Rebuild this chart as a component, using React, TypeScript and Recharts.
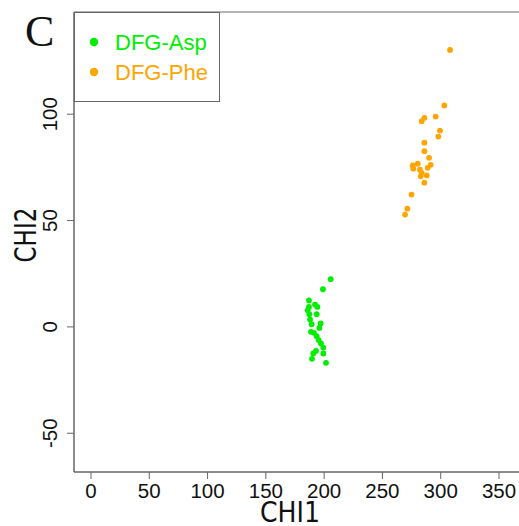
import React from 'react';
import { ScatterChart, Scatter, XAxis, YAxis, ReferenceArea, Legend } from 'recharts';

const aspChi1 = [205.6, 199.0, 187.0, 192.2, 194.2, 185.9, 187.3, 193.6, 187.9, 189.3, 197.0, 195.9, 188.7, 191.3, 193.6, 195.3, 197.3, 199.3, 193.0, 190.7, 199.3, 189.6, 201.6, 187.0];
const aspChi2 = [22.4, 17.7, 12.4, 10.5, 9.4, 7.8, 6.0, 6.0, 3.5, 1.3, 1.6, -0.5, -2.3, -2.8, -4.4, -6.2, -7.8, -9.7, -11.3, -12.5, -12.5, -15.0, -16.9, 9.4];
const pheChi1 = [308.0, 303.1, 295.7, 286.0, 283.7, 299.4, 298.0, 286.0, 286.0, 290.0, 280.3, 276.0, 276.5, 282.2, 291.4, 288.8, 283.7, 288.0, 282.8, 286.0, 275.0, 271.4, 269.4];
const pheChi2 = [130.2, 104.1, 98.9, 98.3, 96.7, 92.3, 89.5, 86.6, 82.6, 79.5, 76.7, 75.9, 74.4, 73.9, 76.2, 74.8, 72.3, 71.2, 70.8, 67.8, 62.2, 55.6, 52.8];

const xTicks = [0, 50, 100, 150, 200, 250, 300, 350];
const yTicks = [-50, 0, 50, 100];
const seriesNames = ['DFG-Asp', 'DFG-Phe'];
const seriesColors = ['#00EE00', '#FFA500'];
const xLabel = 'CHI1';
const yLabel = 'CHI2';
const panelLetter = 'C';

const xDomain: [number, number] = [-14.58, 376.6];
const yDomain: [number, number] = [-68.22, 148.05];

const aspData = aspChi1.map((x, i) => ({ x, y: aspChi2[i] }));
const pheData = pheChi1.map((x, i) => ({ x, y: pheChi2[i] }));

const SANS = '"Liberation Sans", Arial, sans-serif';
const AXIS = '#666';

const XTick = (props: any) => {
  const { x, payload } = props;
  return (
    <text x={x} y={498} textAnchor="middle" fontFamily={SANS} fontSize={20.5} fill="#111">
      {payload.value}
    </text>
  );
};

const YTick = (props: any) => {
  const { y, payload } = props;
  return (
    <text x={57} y={y} transform={`rotate(-90, 57, ${y})`} textAnchor="middle" fontFamily={SANS} fontSize={20.5} fill="#111">
      {payload.value}
    </text>
  );
};

const XLabel = () => (
  <text x={290} y={522} textAnchor="middle" fontFamily='"DejaVu Sans", sans-serif' fontSize={29} fill="#111" textLength={60} lengthAdjust="spacingAndGlyphs">
    {xLabel}
  </text>
);

const YLabel = () => (
  <text x={36} y={235} transform="rotate(-90, 36, 235)" textAnchor="middle" fontFamily='"DejaVu Sans", sans-serif' fontSize={30} fill="#111" textLength={55} lengthAdjust="spacingAndGlyphs">
    {yLabel}
  </text>
);

const makeDot = (color: string) => (props: any) => (
  <circle cx={props.cx} cy={props.cy} r={2.9} fill={color} />
);

const LegendBox = (props: any) => {
  const payload = props.payload || [];
  return (
    <svg width={146} height={90} style={{ display: 'block' }}>
      <rect x={0.5} y={0.5} width={145} height={89} fill="#fff" stroke={AXIS} strokeWidth={1} />
      {payload.map((p: any, i: number) => (
        <g key={i}>
          <circle cx={20} cy={30 + 30 * i} r={4.2} fill={p.color} />
          <text x={41} y={38 + 30 * i} fontFamily={SANS} fontSize={22} fill={p.color}>
            {p.value}
          </text>
        </g>
      ))}
    </svg>
  );
};

export default function App() {
  return (
    <div style={{ position: 'fixed', left: 0, top: 0, width: 519, height: 526, overflow: 'hidden', background: '#fff' }}>
      <div
        style={{
          position: 'absolute',
          left: 25,
          top: 10,
          fontFamily: '"Liberation Serif", serif',
          fontSize: 44,
          lineHeight: '44px',
          color: '#111',
        }}
      >
        {panelLetter}
      </div>
      <ScatterChart width={540} height={526} margin={{ top: 12, right: 10, bottom: 0, left: 0 }}>
        <XAxis
          type="number"
          dataKey="x"
          domain={xDomain}
          ticks={xTicks}
          allowDataOverflow
          height={54}
          stroke={AXIS}
          tickSize={7}
          tick={XTick}
          label={XLabel}
          interval={0}
        />
        <YAxis
          type="number"
          dataKey="y"
          domain={yDomain}
          ticks={yTicks}
          allowDataOverflow
          width={74}
          stroke={AXIS}
          tickSize={7}
          tick={YTick}
          label={YLabel}
          interval={0}
        />
        <ReferenceArea x1={xDomain[0]} x2={xDomain[1]} y1={yDomain[0]} y2={yDomain[1]} fill="none" stroke={AXIS} strokeWidth={1} ifOverflow="visible" />
        <Scatter name={seriesNames[0]} data={aspData} fill={seriesColors[0]} shape={makeDot(seriesColors[0])} isAnimationActive={false} />
        <Scatter name={seriesNames[1]} data={pheData} fill={seriesColors[1]} shape={makeDot(seriesColors[1])} isAnimationActive={false} />
        <Legend
          layout="vertical"
          align="center"
          verticalAlign="middle"
          content={LegendBox}
          wrapperStyle={{ left: 74, top: 12, width: 146, height: 90 }}
        />
      </ScatterChart>
    </div>
  );
}
